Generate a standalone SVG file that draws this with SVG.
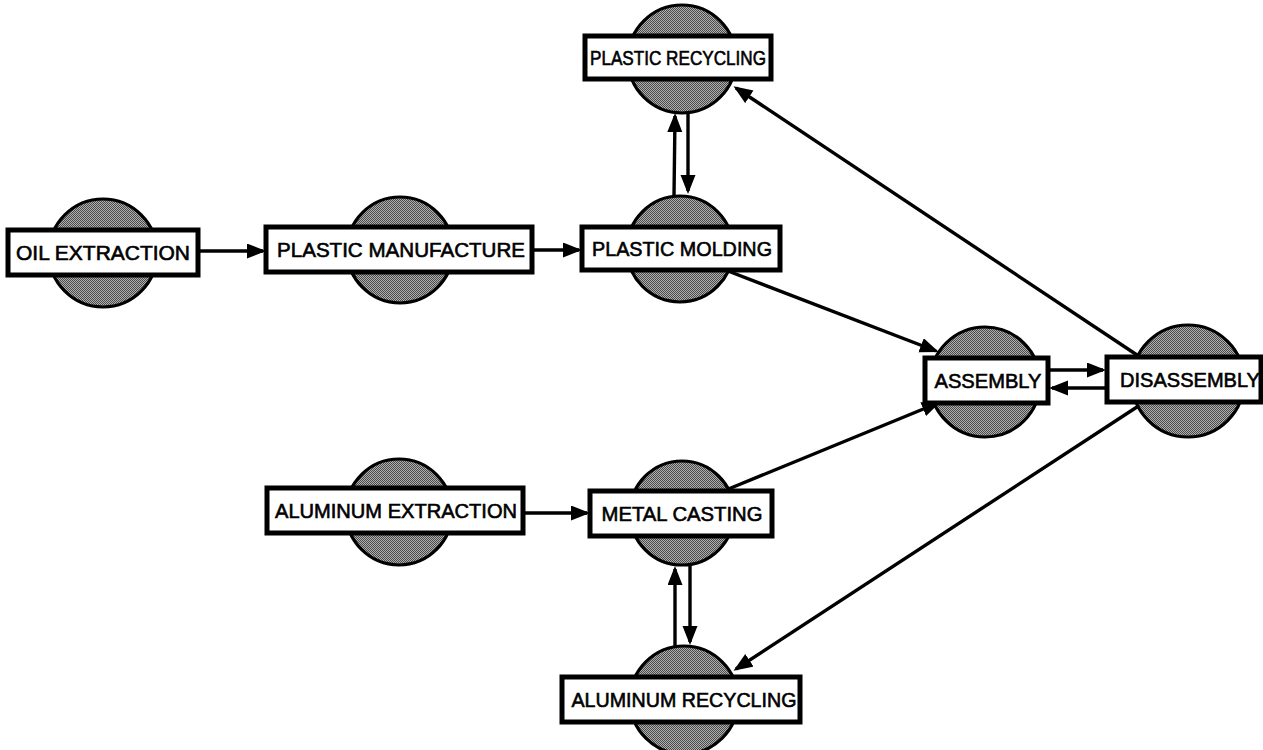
<svg xmlns="http://www.w3.org/2000/svg" width="1263" height="750" viewBox="0 0 1263 750">
<defs>
<pattern id="stip" width="2" height="2" patternUnits="userSpaceOnUse">
<rect width="2" height="2" fill="#b0b0b0"/>
<rect x="0" y="0" width="1" height="1" fill="#4a4a4a"/>
<rect x="1" y="1" width="1" height="1" fill="#4a4a4a"/>
</pattern>
<marker id="ah" markerUnits="userSpaceOnUse" markerWidth="22" markerHeight="16" refX="16" refY="7.5" orient="auto">
<path d="M0,0 L19,7.5 L0,15 z" fill="#000"/>
</marker>
</defs>
<style>
.c{fill:url(#stip);stroke:#000;stroke-width:3.2}
.b{fill:#fff;stroke:#000;stroke-width:5}
.t{font-family:"Liberation Sans",Arial,sans-serif;font-size:20px;fill:#000;stroke:#000;stroke-width:0.6;text-anchor:middle}
.e{fill:none;stroke:#000;stroke-width:3.4;marker-end:url(#ah)}
</style>
<rect width="1263" height="750" fill="#fff"/>
<g id="connectors">
<line class="e" x1="198" y1="251" x2="263" y2="251"/>
<line class="e" x1="532" y1="250" x2="579" y2="250"/>
<line class="e" x1="674" y1="196" x2="675" y2="116"/>
<line class="e" x1="688" y1="113" x2="688" y2="191"/>
<line class="e" x1="728" y1="271" x2="936" y2="351"/>
<line class="e" x1="726" y1="490" x2="938" y2="403"/>
<line class="e" x1="1048" y1="370" x2="1103" y2="370"/>
<line class="e" x1="1107" y1="388" x2="1052" y2="388"/>
<line class="e" x1="1140" y1="357" x2="736" y2="88"/>
<line class="e" x1="1140" y1="405" x2="736" y2="669"/>
<line class="e" x1="523" y1="513" x2="587" y2="513"/>
<line class="e" x1="675" y1="646" x2="675" y2="569"/>
<line class="e" x1="690" y1="565" x2="690" y2="642"/>
</g>
<g id="oil-extraction">
<circle class="c" cx="103" cy="253" r="54"/>
<rect class="b" x="8" y="230" width="190" height="45"/>
<text class="t" x="103" y="260" textLength="174" lengthAdjust="spacingAndGlyphs">OIL EXTRACTION</text>
</g>
<g id="plastic-manufacture">
<circle class="c" cx="400" cy="250" r="53"/>
<rect class="b" x="266" y="227" width="266" height="45"/>
<text class="t" x="401" y="257" textLength="248" lengthAdjust="spacingAndGlyphs">PLASTIC MANUFACTURE</text>
</g>
<g id="plastic-molding">
<circle class="c" cx="680" cy="249" r="53"/>
<rect class="b" x="582" y="227" width="198" height="43"/>
<text class="t" x="682" y="256" textLength="180" lengthAdjust="spacingAndGlyphs">PLASTIC MOLDING</text>
</g>
<g id="plastic-recycling">
<circle class="c" cx="682" cy="59" r="54"/>
<rect class="b" x="585" y="36" width="186" height="43"/>
<text class="t" x="678" y="65" textLength="176" lengthAdjust="spacingAndGlyphs">PLASTIC RECYCLING</text>
</g>
<g id="assembly">
<circle class="c" cx="985" cy="382" r="55"/>
<rect class="b" x="925" y="358" width="123" height="45"/>
<text class="t" x="988" y="388" textLength="107" lengthAdjust="spacingAndGlyphs">ASSEMBLY</text>
</g>
<g id="disassembly">
<circle class="c" cx="1188" cy="381" r="56"/>
<rect class="b" x="1107" y="357" width="154" height="45"/>
<text class="t" x="1190" y="387" textLength="140" lengthAdjust="spacingAndGlyphs">DISASSEMBLY</text>
</g>
<g id="aluminum-extraction">
<circle class="c" cx="399" cy="512" r="53"/>
<rect class="b" x="267" y="488" width="256" height="45"/>
<text class="t" x="396" y="518" textLength="242" lengthAdjust="spacingAndGlyphs">ALUMINUM EXTRACTION</text>
</g>
<g id="metal-casting">
<circle class="c" cx="682" cy="513" r="52"/>
<rect class="b" x="590" y="491" width="182" height="45"/>
<text class="t" x="682" y="521" textLength="161" lengthAdjust="spacingAndGlyphs">METAL CASTING</text>
</g>
<g id="aluminum-recycling">
<circle class="c" cx="684" cy="700" r="54"/>
<rect class="b" x="562" y="677" width="238" height="45"/>
<text class="t" x="684" y="707" textLength="225" lengthAdjust="spacingAndGlyphs">ALUMINUM RECYCLING</text>
</g>
</svg>
